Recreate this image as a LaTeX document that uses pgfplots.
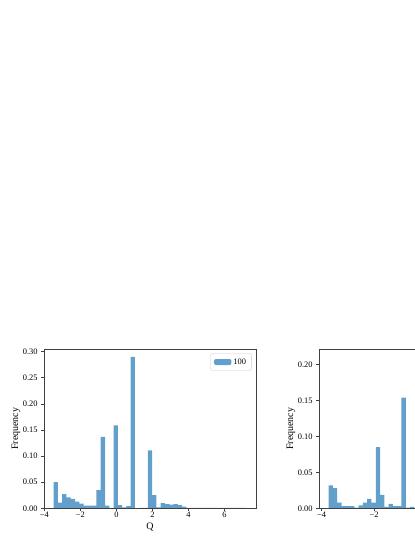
\documentclass[border=0pt]{standalone}
\usepackage{fontspec}
\setmainfont{Liberation Serif}
\usepackage{pgfplots}
\pgfplotsset{compat=1.18}

\definecolor{barblue}{RGB}{98,160,203}
\newcommand{\fs}{\fontsize{8.4bp}{10bp}\selectfont}

\pgfplotsset{
  histax/.style={
    scale only axis, width=212bp, height=159bp,
    anchor=south west,
    axis on top,
    axis line style={black!75, line width=0.65bp},
    every tick/.style={black!75, line width=0.65bp},
    tick align=outside, tick pos=left, major tick length=2.9bp,
    ymin=0,
    tick label style={font=\fs},
    xticklabel style={yshift=1bp, inner ysep=1.5bp},
    label style={font=\fs},
    every axis x label/.style={at={(axis description cs:0.5,0)}, anchor=center, yshift=-18.5bp},
    every axis y label/.style={at={(axis description cs:0,0.5)}, anchor=center, xshift=-28bp, rotate=90},
    ylabel={Frequency},
  },
}

\begin{document}
\begin{tikzpicture}
\path[use as bounding box] (0,0) rectangle (415bp,537bp);
\clip (0,0) rectangle (415bp,537bp);

% left panel
\begin{axis}[histax,
  at={(44bp,28.7bp)},
  xmin=-4.02, xmax=7.75, ymax=0.3045,
  xtick={-4,-2,0,2,4,6}, xticklabels={−4,−2,0,2,4,6},
  ytick={0,0.05,0.10,0.15,0.20,0.25,0.30},
  yticklabels={0.00,0.05,0.10,0.15,0.20,0.25,0.30},
  xlabel={Q},
  legend style={at={(axis description cs:0.98,0.975)}, anchor=north east,
    draw=black!20, rounded corners=2bp, font=\fs, inner xsep=3.5bp, inner ysep=3bp},
  legend image code/.code={\fill[barblue] (0bp,-3bp) rectangle (17.5bp,3bp);},
]
\addplot[ybar interval, fill=barblue, draw=none] coordinates {
  (-3.487,0.050) (-3.249,0.011) (-3.011,0.027) (-2.774,0.021) (-2.536,0.018)
  (-2.298,0.013) (-2.060,0.009) (-1.822,0.005) (-1.585,0.005) (-1.347,0.005)
  (-1.109,0.035) (-0.871,0.137) (-0.633,0.005) (-0.396,0.001) (-0.158,0.159)
  (0.080,0.006) (0.318,0.002) (0.556,0.004) (0.793,0.290) (1.031,0.0005)
  (1.269,0.001) (1.507,0.001) (1.745,0.111) (1.982,0.025) (2.220,0.002)
  (2.458,0.010) (2.696,0.008) (2.934,0.007) (3.171,0.008) (3.409,0.006)
  (3.647,0.003) (3.885,0.0006) (4.123,0.0006) (4.360,0.0006) (4.598,0.0006)
  (4.836,0.0006) (5.074,0.0006) (5.312,0.0006) (5.549,0.0006) (5.787,0.0006)
  (6.025,0.0006) (6.263,0.0006) (6.501,0.0006) (6.738,0.0006) (6.976,0.0006)
  (7.214,0)
};
\addlegendentry{100}
\end{axis}

% right panel (cut off at the right edge)
\begin{axis}[histax,
  at={(319bp,28.7bp)},
  xmin=-4.103, xmax=3.99, ymax=0.221,
  xtick={-4,-2}, xticklabels={−4,−2},
  ytick={0,0.05,0.10,0.15,0.20},
  yticklabels={0.00,0.05,0.10,0.15,0.20},
]
\addplot[ybar interval, fill=barblue, draw=none] coordinates {
  (-3.734,0.032) (-3.571,0.028) (-3.407,0.008) (-3.244,0.003) (-3.080,0.003)
  (-2.917,0.003) (-2.753,0.001) (-2.590,0.004) (-2.426,0.008) (-2.263,0.013)
  (-2.099,0.008) (-1.936,0.085) (-1.772,0.0185) (-1.609,0.002) (-1.445,0.006)
  (-1.282,0.003) (-1.118,0.003) (-0.955,0.154) (-0.791,0.001) (-0.628,0.002)
  (-0.464,0)
};
\end{axis}
\end{tikzpicture}
\end{document}
